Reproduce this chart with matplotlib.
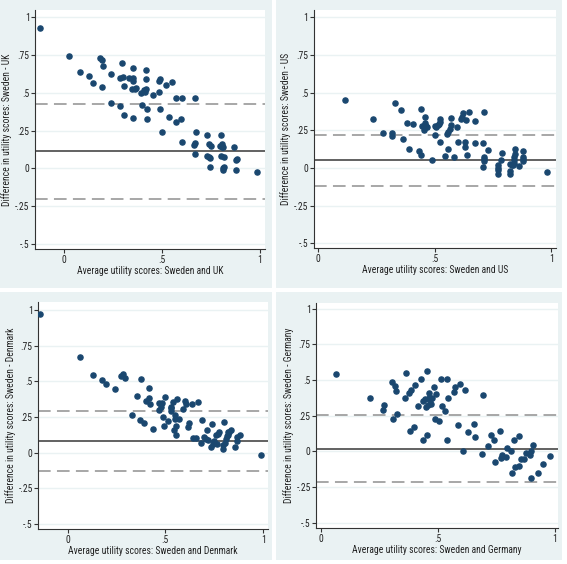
import matplotlib.pyplot as plt
from matplotlib import font_manager
from matplotlib.patches import Rectangle

# Stata uses a narrow sans; pick a condensed face if one is installed
_fonts = font_manager.fontManager.ttflist
_names = {f.name for f in _fonts}
font_family, font_stretch, fsize = 'Liberation Sans', 'normal', 6.0
for cand in ['Liberation Sans Narrow', 'Arial Narrow', 'Roboto Condensed', 'Open Sans Condensed']:
    if cand in _names:
        font_family, font_stretch, fsize = cand, 'normal', 6.9
        break
else:
    for pref in ['Noto Sans', 'DejaVu Sans', 'Open Sans', 'Roboto']:
        hits = [f for f in _fonts if f.name == pref and str(f.stretch) in ('condensed', 'semi-condensed', '75', '87.5', 'extra-condensed')]
        if hits:
            font_family, font_stretch, fsize = pref, hits[0].stretch, 6.9
            break

plt.rcParams['font.family'] = [font_family, 'DejaVu Sans']
plt.rcParams['font.stretch'] = font_stretch

# Sweden - UK
uk_avg = [-0.123, 0.026, 0.080, 0.128, 0.148, 0.184, 0.193, 0.198, 0.194, 0.240, 0.242, 0.288,
          0.286, 0.295, 0.303, 0.307, 0.308, 0.330, 0.349, 0.354, 0.351, 0.353, 0.354, 0.363,
          0.370, 0.392, 0.400, 0.407, 0.412, 0.417, 0.419, 0.419, 0.422, 0.422, 0.457, 0.484,
          0.486, 0.489, 0.491, 0.499, 0.523, 0.535, 0.552, 0.571, 0.571, 0.601, 0.596, 0.603,
          0.668, 0.673, 0.664, 0.670, 0.670, 0.733, 0.739, 0.750, 0.733, 0.739, 0.746, 0.748,
          0.801, 0.799, 0.809, 0.814, 0.806, 0.801, 0.818, 0.811, 0.811, 0.818, 0.871, 0.877,
          0.882, 0.879, 0.986]
uk_diff = [0.932, 0.747, 0.637, 0.612, 0.562, 0.733, 0.714, 0.678, 0.537, 0.623, 0.432, 0.410,
           0.601, 0.696, 0.608, 0.548, 0.355, 0.601, 0.524, 0.667, 0.601, 0.579, 0.333, 0.524,
           0.533, 0.502, 0.419, 0.520, 0.507, 0.650, 0.524, 0.590, 0.396, 0.330, 0.487, 0.507,
           0.577, 0.590, 0.394, 0.242, 0.553, 0.341, 0.573, 0.463, 0.306, 0.463, 0.326, 0.172,
           0.463, 0.238, 0.156, 0.167, 0.095, 0.220, 0.163, 0.150, 0.079, 0.073, 0.066, 0.009,
           0.218, 0.150, 0.163, 0.141, 0.145, 0.079, 0.075, 0.002, -0.013, 0.007, 0.143, 0.053,
           0.064, -0.011, -0.026]

# Sweden - US
us_avg = [0.114, 0.236, 0.281, 0.317, 0.319, 0.331, 0.357, 0.364, 0.383, 0.391, 0.406, 0.431,
          0.440, 0.443, 0.447, 0.454, 0.457, 0.460, 0.461, 0.467, 0.490, 0.500, 0.503, 0.507,
          0.514, 0.519, 0.521, 0.523, 0.524, 0.543, 0.554, 0.556, 0.559, 0.564, 0.569, 0.571,
          0.581, 0.596, 0.599, 0.611, 0.616, 0.621, 0.630, 0.631, 0.636, 0.639, 0.647, 0.674,
          0.671, 0.707, 0.711, 0.709, 0.711, 0.713, 0.711, 0.727, 0.771, 0.771, 0.770, 0.771,
          0.786, 0.789, 0.821, 0.821, 0.821, 0.830, 0.836, 0.839, 0.840, 0.843, 0.843, 0.840,
          0.861, 0.879, 0.879, 0.879, 0.879, 0.983]
us_diff = [0.451, 0.325, 0.232, 0.230, 0.215, 0.431, 0.385, 0.190, 0.301, 0.124, 0.290, 0.115,
           0.084, 0.394, 0.279, 0.252, 0.341, 0.301, 0.279, 0.274, 0.051, 0.279, 0.217, 0.270,
           0.285, 0.292, 0.170, 0.327, 0.308, 0.082, 0.223, 0.241, 0.124, 0.257, 0.283, 0.332,
           0.071, 0.274, 0.170, 0.323, 0.341, 0.363, 0.137, 0.173, 0.319, 0.088, 0.374, 0.312,
           0.168, 0.168, 0.372, 0.009, 0.075, 0.058, 0.044, 0.117, 0.018, 0.000, -0.042, -0.015,
           0.051, 0.100, 0.027, -0.018, -0.040, 0.022, 0.022, 0.071, 0.053, 0.091, 0.128, 0.035,
           0.011, 0.111, 0.075, 0.058, 0.044, -0.029]

# Sweden - Denmark
dk_avg = [-0.141, 0.065, 0.131, 0.175, 0.196, 0.242, 0.273, 0.281, 0.293, 0.327, 0.356, 0.371,
          0.376, 0.390, 0.400, 0.417, 0.417, 0.421, 0.436, 0.465, 0.467, 0.479, 0.482, 0.487,
          0.494, 0.496, 0.511, 0.526, 0.530, 0.530, 0.540, 0.543, 0.549, 0.550, 0.554, 0.555,
          0.559, 0.571, 0.588, 0.601, 0.603, 0.613, 0.620, 0.637, 0.639, 0.656, 0.664, 0.683,
          0.688, 0.698, 0.705, 0.714, 0.719, 0.736, 0.733, 0.745, 0.746, 0.758, 0.765, 0.770,
          0.775, 0.794, 0.794, 0.797, 0.804, 0.809, 0.813, 0.819, 0.826, 0.835, 0.819, 0.855,
          0.867, 0.867, 0.879, 0.988]
dk_diff = [0.972, 0.672, 0.545, 0.508, 0.482, 0.449, 0.538, 0.550, 0.527, 0.266, 0.398, 0.231,
           0.515, 0.206, 0.365, 0.452, 0.384, 0.339, 0.168, 0.351, 0.302, 0.320, 0.351, 0.248,
           0.184, 0.388, 0.222, 0.318, 0.292, 0.316, 0.356, 0.156, 0.262, 0.234, 0.121, 0.189,
           0.374, 0.236, 0.304, 0.365, 0.339, 0.177, 0.208, 0.339, 0.105, 0.105, 0.356, 0.070,
           0.229, 0.112, 0.098, 0.156, 0.091, 0.201, 0.039, 0.058, 0.079, 0.121, 0.058, 0.133,
           0.145, 0.027, 0.051, 0.215, 0.065, 0.093, 0.114, 0.124, 0.145, 0.161, 0.145, 0.042,
           0.107, 0.079, 0.121, -0.019]

# Sweden - Germany
de_avg = [0.064, 0.207, 0.264, 0.267, 0.303, 0.316, 0.319, 0.309, 0.326, 0.360, 0.361, 0.376,
          0.380, 0.386, 0.397, 0.403, 0.416, 0.426, 0.434, 0.437, 0.443, 0.447, 0.454, 0.454,
          0.457, 0.460, 0.461, 0.467, 0.469, 0.473, 0.483, 0.490, 0.489, 0.503, 0.513, 0.517,
          0.529, 0.537, 0.540, 0.543, 0.567, 0.571, 0.587, 0.594, 0.609, 0.614, 0.629, 0.654,
          0.660, 0.689, 0.694, 0.716, 0.729, 0.739, 0.746, 0.766, 0.770, 0.773, 0.790, 0.796,
          0.813, 0.819, 0.824, 0.829, 0.847, 0.849, 0.856, 0.869, 0.879, 0.893, 0.899, 0.900,
          0.906, 0.929, 0.951, 0.979]
de_diff = [0.544, 0.374, 0.287, 0.322, 0.486, 0.458, 0.421, 0.229, 0.259, 0.374, 0.551, 0.409,
           0.140, 0.430, 0.173, 0.463, 0.315, 0.509, 0.350, 0.082, 0.369, 0.313, 0.563, 0.117,
           0.322, 0.374, 0.407, 0.360, 0.334, 0.376, 0.451, 0.404, 0.227, 0.215, 0.505, 0.318,
           0.283, 0.082, 0.505, 0.371, 0.418, 0.451, 0.182, 0.474, 0.005, 0.428, 0.133, 0.192,
           0.103, -0.019, 0.395, 0.037, 0.112, 0.082, -0.077, 0.140, -0.049, -0.023, -0.040, 0.026,
           0.005, -0.152, 0.079, -0.110, -0.100, 0.105, -0.054, -0.054, -0.009, -0.028, 0.005, -0.187,
           0.047, -0.152, -0.086, -0.030]

# mean difference and limits of agreement
means = [0.112, 0.051, 0.080, 0.020]
upper = [0.427, 0.219, 0.292, 0.257]
lower = [-0.203, -0.117, -0.130, -0.217]
countries = ['UK', 'US', 'Denmark', 'Germany']

yticks = [-0.5, -0.25, 0, 0.25, 0.5, 0.75, 1]
ylabels = ['-.5', '-.25', '0', '.25', '.5', '.75', '1']
xticks = [0, 0.5, 1]
xlabels = ['0', '.5', '1']

W, H = 567, 564
fig = plt.figure(figsize=(W / 100, H / 100), dpi=100)
fig.patch.set_facecolor('white')

bg = '#eaf2f3'
navy = '#1a476f'

# panel backgrounds (pixels: x0, y0, x1, y1)
panels = [(0, 0, 272, 288), (276, 0, 562, 288), (0, 292, 272, 560), (276, 292, 562, 560)]
for x0, y0, x1, y1 in panels:
    fig.patches.append(Rectangle((x0 / W, 1 - y1 / H), (x1 - x0) / W, (y1 - y0) / H,
                                 transform=fig.transFigure, facecolor=bg, edgecolor='none', zorder=-5))

# plot regions (pixels: left, top, right, bottom)
regions = [(35, 10, 265, 249), (313.7, 10, 556, 248.3), (38.3, 302, 268.3, 529.3), (316.3, 302.7, 558, 528)]
xlims = [(-0.148, 1.027), (-0.018, 1.02), (-0.150, 1.026), (-0.021, 1.014)]
ylims = [(-0.533, 1.048), (-0.533, 1.048), (-0.539, 1.058), (-0.537, 1.042)]

data = [(uk_avg, uk_diff), (us_avg, us_diff), (dk_avg, dk_diff), (de_avg, de_diff)]

for i, (l, t, r, b) in enumerate(regions):
    ax = fig.add_axes([l / W, 1 - b / H, (r - l) / W, (b - t) / H])
    ax.set_facecolor('white')
    for yv in yticks:
        ax.axhline(yv, color=bg, lw=1.0, zorder=1)
    x, y = data[i]
    ax.axhline(upper[i], color='#a0a0a0', lw=1.3, dashes=(7, 3.5), zorder=2)
    ax.axhline(lower[i], color='#a0a0a0', lw=1.3, dashes=(7, 3.5), zorder=2)
    ax.axhline(means[i], color='#555555', lw=1.3, zorder=2)
    ax.plot(x, y, 'o', color=navy, ms=3.7, mec=navy, zorder=3)
    ax.set_xlim(*xlims[i])
    ax.set_ylim(*ylims[i])
    ax.set_xticks(xticks)
    ax.set_xticklabels(xlabels)
    ax.set_yticks(yticks)
    ax.set_yticklabels(ylabels)
    ax.tick_params(length=3, width=0.8, color='#333333', labelsize=fsize, pad=1, labelcolor='#222222')
    for s in ['top', 'right']:
        ax.spines[s].set_visible(False)
    for s in ['left', 'bottom']:
        ax.spines[s].set_color('#333333')
        ax.spines[s].set_linewidth(0.8)
    ax.set_xlabel('Average utility scores: Sweden and ' + countries[i], fontsize=fsize, labelpad=1,
                  color='#222222')
    ax.set_ylabel('Difference in utility scores: Sweden - ' + countries[i], fontsize=fsize, labelpad=2,
                  color='#222222')

fig.savefig('out.png', dpi=100, facecolor='white')
